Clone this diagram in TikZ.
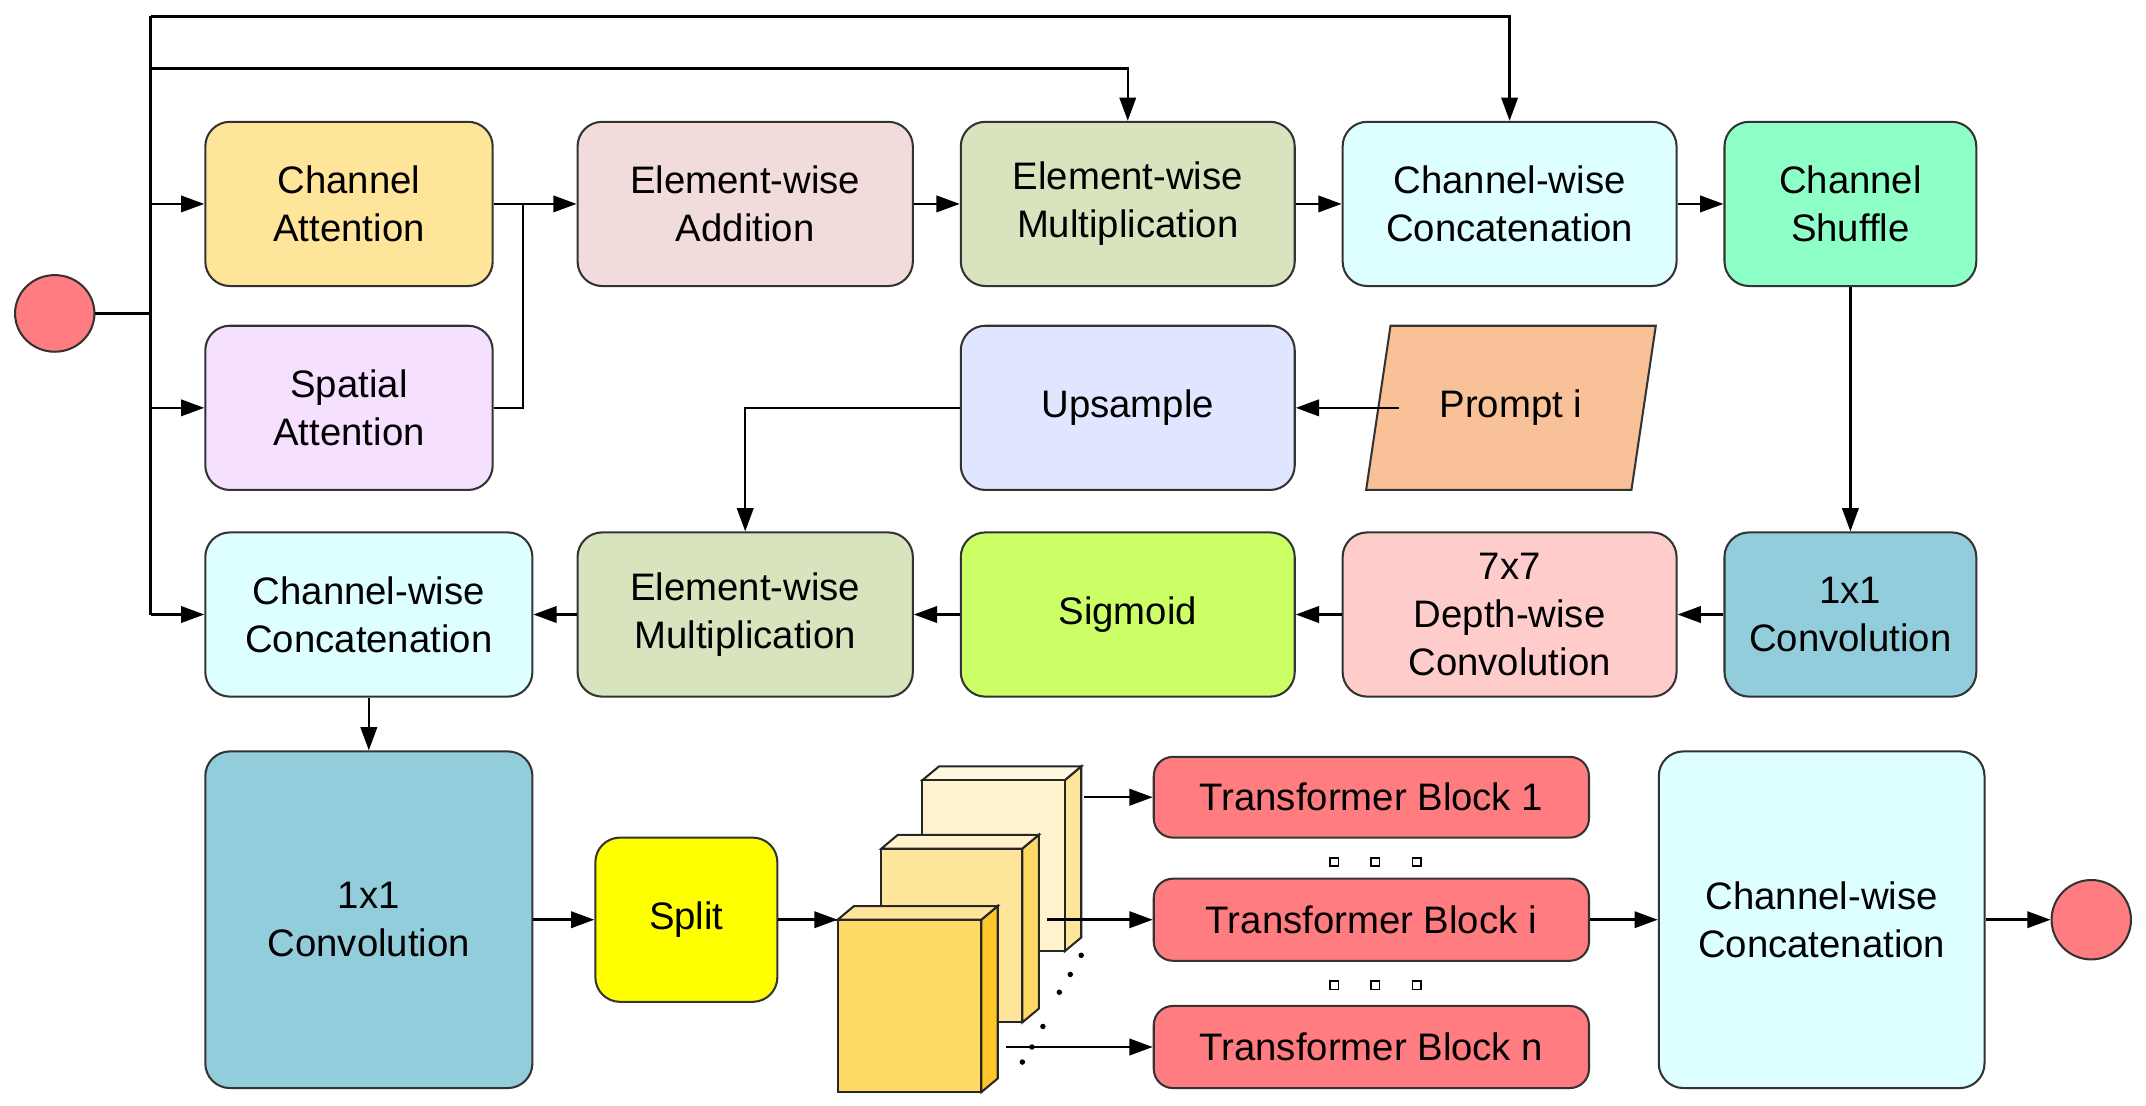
\documentclass[tikz,border=0pt]{standalone}
\usepackage{fontspec}
\setmainfont{Liberation Sans}
\usetikzlibrary{arrows.meta,shapes.geometric}
\definecolor{cCA}{HTML}{FFE599}\definecolor{cEA}{HTML}{F2DCDB}\definecolor{cEM}{HTML}{D7E4BD}
\definecolor{cCC}{HTML}{DEFFFF}\definecolor{cSh}{HTML}{8FFFC8}\definecolor{cSA}{HTML}{F5E1FF}
\definecolor{cUp}{HTML}{E0E6FF}\definecolor{cPr}{HTML}{F8C198}\definecolor{cSg}{HTML}{CCFF66}
\definecolor{cDW}{HTML}{FFCCCC}\definecolor{cCv}{HTML}{92CDDC}\definecolor{cSp}{HTML}{FFFF00}
\definecolor{cTB}{HTML}{FF7C80}
\definecolor{fA}{HTML}{FFD966}\definecolor{sA}{HTML}{FFC72C}\definecolor{tA}{HTML}{FFE599}
\definecolor{fB}{HTML}{FFE599}\definecolor{sB}{HTML}{FFD966}\definecolor{tB}{HTML}{FFF2CC}
\definecolor{fC}{HTML}{FFF2CC}\definecolor{sC}{HTML}{FFE599}\definecolor{tC}{HTML}{FFF8E0}
\tikzset{x=1pt,y=-1pt,
 box/.style={draw=black!80,line width=1.5pt,rounded corners=18pt,align=center,inner sep=0pt,
   font=\fontsize{28}{35}\selectfont},
 ar/.style={-{Triangle[length=17pt,width=12pt]},line width=1.8pt},
 ln/.style={line width=1.8pt},
 dot/.style={fill=black,inner sep=0pt,minimum size=4pt,circle}}
\newcommand{\cube}[7]{% x1 x2 y1 y2 front side top
 \fill[#6,draw=black!85,line width=1.5pt] (#2,#3)--(#2+12,#3-10)--(#2+12,#4-10)--(#2,#4)--cycle;
 \fill[#7,draw=black!85,line width=1.5pt] (#1,#3)--(#1+12,#3-10)--(#2+12,#3-10)--(#2,#3)--cycle;
 \fill[#5,draw=black!85,line width=1.5pt] (#1,#3) rectangle (#2,#4);}
\begin{document}
\begin{tikzpicture}
\useasboundingbox (0,0) rectangle (1568,808);
% row 1
\node[box,fill=cCA,minimum width=210pt,minimum height=120pt] (ca) at (255,149) {Channel\\Attention};
\node[box,fill=cEA,minimum width=245pt,minimum height=120pt] (ea) at (544.5,149) {Element-wise\\Addition};
\node[box,fill=cEM,minimum width=244pt,minimum height=120pt] (em1) at (824,149) {Element-wise\\Multiplication};
\node[box,fill=cCC,minimum width=244pt,minimum height=120pt] (cc1) at (1103,149) {Channel-wise\\Concatenation};
\node[box,fill=cSh,minimum width=184pt,minimum height=120pt] (sh) at (1352,149) {Channel\\Shuffle};
% row 2
\node[box,fill=cSA,minimum width=210pt,minimum height=120pt] (sa) at (255,298) {Spatial\\Attention};
\node[box,fill=cUp,minimum width=244pt,minimum height=120pt] (up) at (824,298) {Upsample};
\node[trapezium,trapezium left angle=68,trapezium right angle=112,draw=black!80,line width=1.5pt,fill=cPr,
  minimum width=212pt,minimum height=120pt,inner sep=0pt,trapezium stretches=true,
  font=\fontsize{28}{35}\selectfont] (pr) at (1104,298) {Prompt i};
% row 3
\node[box,fill=cCC,minimum width=239pt,minimum height=120pt] (cc2) at (269.5,449) {Channel-wise\\Concatenation};
\node[box,fill=cEM,minimum width=245pt,minimum height=120pt] (em2) at (544.5,449) {Element-wise\\Multiplication};
\node[box,fill=cSg,minimum width=244pt,minimum height=120pt] (sg) at (824,449) {Sigmoid};
\node[box,fill=cDW,minimum width=244pt,minimum height=120pt] (dw) at (1103,449) {7x7\\Depth-wise\\Convolution};
\node[box,fill=cCv,minimum width=184pt,minimum height=120pt] (c1) at (1352,449) {1x1\\Convolution};
% row 4
\node[box,fill=cCv,minimum width=239pt,minimum height=246pt] (c2) at (269.5,672) {1x1\\Convolution};
\node[box,fill=cSp,minimum width=133pt,minimum height=120pt] (sp) at (501.5,672) {Split};
\node[box,fill=cTB,minimum width=318pt,minimum height=59pt,rounded corners=14pt] (tb1) at (1002,582.5) {Transformer Block 1};
\node[box,fill=cTB,minimum width=318pt,minimum height=60pt,rounded corners=14pt] (tbi) at (1002,672) {Transformer Block i};
\node[box,fill=cTB,minimum width=318pt,minimum height=60pt,rounded corners=14pt] (tbn) at (1002,765) {Transformer Block n};
\node[box,fill=cCC,minimum width=238pt,minimum height=246pt] (cc3) at (1331,672) {Channel-wise\\Concatenation};
\node[ellipse,draw=black!80,line width=1.5pt,fill=cTB,minimum width=58pt,minimum height=56pt,inner sep=0pt] (in) at (40,229) {};
\node[circle,draw=black!80,line width=1.5pt,fill=cTB,minimum size=58pt,inner sep=0pt] (out) at (1528,672) {};
% cubes
\cube{674}{778}{570}{695}{fC}{sC}{tC}
\cube{644}{747}{620}{747}{fB}{sB}{tB}
\cube{612}{717}{672}{798}{fA}{sA}{tA}
\coordinate (cubein) at (612,672);
\coordinate (o1) at (792,582.5);\coordinate (oi) at (765,672);\coordinate (on) at (735,765);
\foreach \x/\y in {790/698, 782/712, 774/725, 762/750, 754/765, 747/776} \node[dot] at (\x,\y) {};
\foreach \x in {975,1005,1035} {\draw[line width=1.3pt] (\x-3,627) rectangle (\x+3,633); \draw[line width=1.3pt] (\x-3,717) rectangle (\x+3,723);}
% connectors
\coordinate (j) at (110,229);
\draw[line width=2.5pt] (in.east) -- (j);
\draw[ln] (110,12) -- (110,449);
\draw[ar] (110,149) -- (ca.west);
\draw[ar] (110,298) -- (sa.west);
\draw[ar] (110,449) -- (cc2.west);
\draw[ar] (110,12) -| (cc1.north);
\draw[ar] (110,50) -| (em1.north);
\draw[ln] (ca.east) -- (382,149);
\draw[ln] (sa.east) -| (382,149);
\draw[ar] (382,149) -- (ea.west);
\draw[ar] (ea) -- (em1);
\draw[ar] (em1) -- (cc1);
\draw[ar] (cc1) -- (sh);
\draw[ar] (sh) -- (c1);
\draw[ar] (c1) -- (dw);
\draw[ar] (dw) -- (sg);
\draw[ar] (sg) -- (em2);
\draw[ar] (em2) -- (cc2);
\draw[ar] (1022,298) -- (up.east);
\draw[ar] (up.west) -| (em2.north);
\draw[ar] (cc2.south) -- (c2.north);
\draw[ar] (c2.east) -- (sp.west);
\draw[ar] (sp.east) -- (cubein);
\draw[ar] (o1) -- (tb1.west);
\draw[ar] (oi) -- (tbi.west);
\draw[ar] (on) -- (tbn.west);
\draw[ar] (tbi.east) -- (cc3.west);
\draw[ar] (cc3.east) -- (out.west);
\end{tikzpicture}
\end{document}
